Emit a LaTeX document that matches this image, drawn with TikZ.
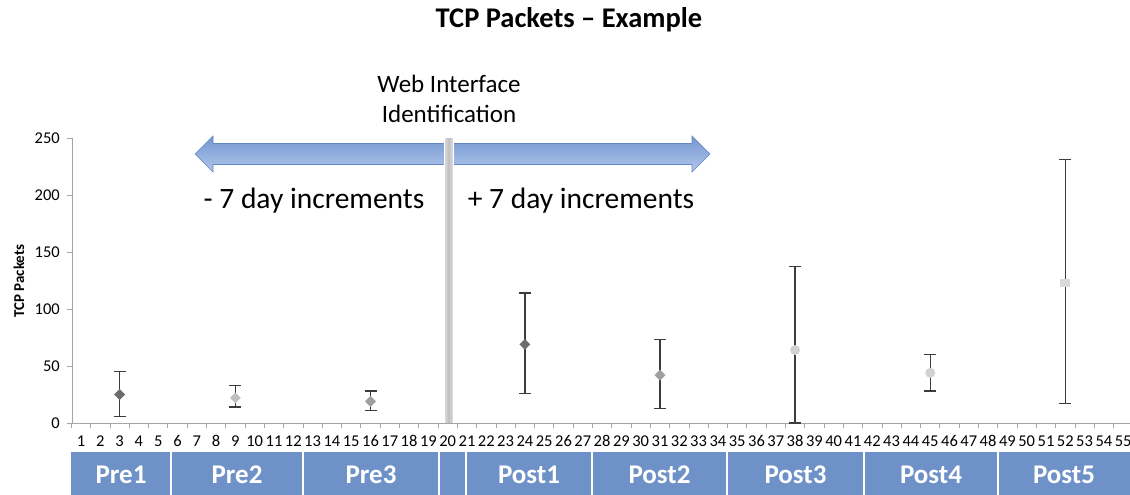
\documentclass[tikz,border=0pt]{standalone}
\usepackage{fontspec}
\setmainfont{Carlito}
\usetikzlibrary{shapes.geometric}
\definecolor{barblue}{RGB}{110,145,200}
\definecolor{arrowtop}{RGB}{115,150,210}
\definecolor{arrowbot}{RGB}{178,199,234}
\definecolor{arrowline}{RGB}{100,135,195}
\definecolor{axisgray}{RGB}{165,165,165}
\definecolor{errgray}{RGB}{60,60,60}
\tikzset{
  axisline/.style={draw=axisgray, line width=0.9pt},
  errbar/.style={draw=errgray, line width=1.3pt},
  mk/.style={diamond, inner sep=0pt, minimum size=11pt, draw=none},
  mkdark/.style={mk, fill=gray!85!black},
  mkmid/.style={mk, fill=gray!75},
  mklight/.style={mk, fill=gray!50},
  mkpale/.style={circle, inner sep=0pt, minimum size=10pt, fill=gray!35},
  mksq/.style={rectangle, inner sep=0pt, minimum width=10pt, minimum height=8pt, fill=gray!30},
  ticklab/.style={font=\fontsize{16.5}{18}\selectfont, inner sep=0pt},
  seglab/.style={font=\fontsize{27}{30}\selectfont\bfseries, text=white, inner sep=0pt},
  sep/.style={draw=white, line width=2pt},
  bigtext/.style={font=\fontsize{29.5}{32}\selectfont, inner sep=0pt},
  webtext/.style={font=\fontsize{25}{28}\selectfont, inner sep=0pt}
}
\begin{document}
\begin{tikzpicture}[x=1pt,y=-1pt]
\useasboundingbox (0,0) rectangle (1130,495);
% title
\node[font=\fontsize{28.5}{31}\selectfont\bfseries, inner sep=0pt] (title) at (569,20) {TCP Packets -- Example};
% y label
\node[rotate=90, font=\fontsize{15}{17}\selectfont\bfseries, inner sep=0pt] (ylab) at (19,281) {TCP Packets};
% double arrow
\shade[top color=arrowtop, bottom color=arrowbot, draw=arrowline, line width=0.6pt]
  (195,154) -- (213,136) -- (213,143.5) -- (692,143.5) -- (692,136) -- (710,154)
  -- (692,172) -- (692,164.5) -- (213,164.5) -- (213,172) -- cycle;
% vertical separator (web interface identification)
\shade[left color=gray!25, right color=gray!25, middle color=gray!50, draw=white, line width=0.8pt] (444,137) rectangle (453,423);
% texts
\node[webtext] (web1) at (449,84) {Web Interface};
\node[webtext] (web2) at (449,114) {Identification};
\node[bigtext] (minus) at (314,201) {- 7 day increments};
\node[bigtext] (plus) at (581,201) {+ 7 day increments};
% axes
\coordinate (ytop) at (72,138);
\coordinate (origin) at (72,423);
\coordinate (xend) at (1130,423);
\draw[axisline] (ytop) -- (origin) -- (xend);
\foreach \v in {0,50,...,250}{
  \draw[axisline] (67,423-1.14*\v) -- (72,423-1.14*\v);
  \node[ticklab, anchor=east] (yl\v) at (60,423-1.14*\v) {\v};
}
\foreach \k in {0,...,55}{
  \draw[axisline] (71.35+\k*19.3,423) -- (71.35+\k*19.3,428);
}
\foreach \i in {1,...,55}{
  \node[ticklab] (xl\i) at (81+\i*19.3-19.3,441) {\i};
}
% data with error bars
\foreach \i/\m/\lo/\hi/\s in {3/25/6/45/mkdark, 9/22/14/33/mklight, 16/19/11/28/mkmid, 24/69/26/114/mkdark, 31/42/13/73/mkmid, 38/64/0/137/mkpale, 45/44/28/60/mkpale, 52/123/17/231/mksq}{
  \coordinate (t\i) at (81+\i*19.3-19.3, 423-1.14*\hi);
  \coordinate (b\i) at (81+\i*19.3-19.3, 423-1.14*\lo);
  \draw[errbar] (t\i) -- (b\i);
  \draw[errbar] ([xshift=-6pt]t\i) -- ([xshift=6pt]t\i);
  \draw[errbar] ([xshift=-6pt]b\i) -- ([xshift=6pt]b\i);
  \node[\s] (p\i) at (81+\i*19.3-19.3, 423-1.14*\m) {};
}
% bottom bar
\fill[barblue] (71,452) rectangle (1130,495);
\foreach \x in {171,303,439,466,592,727,864,998}{
  \draw[sep] (\x,452) -- (\x,495);
}
\node[seglab] (s1) at (121,475) {Pre1};
\node[seglab] (s2) at (237,475) {Pre2};
\node[seglab] (s3) at (371,475) {Pre3};
\node[seglab] (s4) at (529,475) {Post1};
\node[seglab] (s5) at (659.5,475) {Post2};
\node[seglab] (s6) at (795.5,475) {Post3};
\node[seglab] (s7) at (931,475) {Post4};
\node[seglab] (s8) at (1064,475) {Post5};
\end{tikzpicture}
\end{document}
